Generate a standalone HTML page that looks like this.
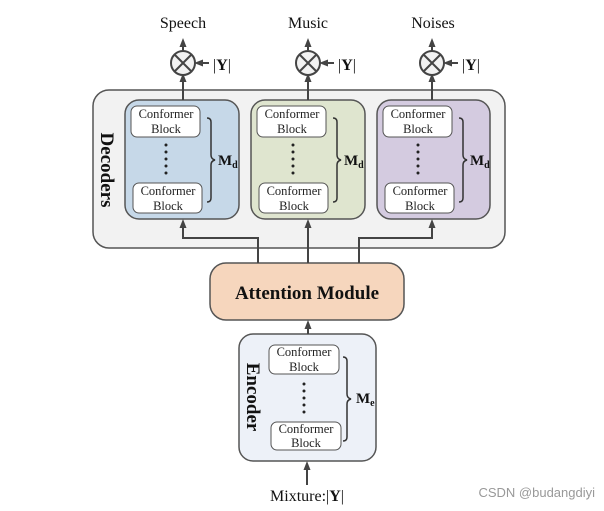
<!DOCTYPE html>
<html><head><meta charset="utf-8"><style>body{margin:0;background:#fff}svg{display:block}</style></head><body>
<svg width="604" height="511" viewBox="0 0 604 511" xmlns="http://www.w3.org/2000/svg" font-family="Liberation Serif, serif">
<defs><marker id="a" markerWidth="9" markerHeight="8" refX="5" refY="4" orient="auto" markerUnits="userSpaceOnUse"><path d="M0,0.5 L9,4 L0,7.5 Z" fill="#444"/></marker></defs>
<rect x="93" y="90" width="412" height="158" rx="16" fill="#f2f2f2" stroke="#555" stroke-width="1.5"/>
<g stroke="#555" stroke-width="1.5">
<rect x="125" y="100" width="114" height="119" rx="14" fill="#c6d8e8"/>
<rect x="251" y="100" width="114" height="119" rx="14" fill="#dfe5cf"/>
<rect x="377" y="100" width="113" height="119" rx="14" fill="#d4cbe0"/>
<rect x="210" y="263" width="194" height="57" rx="16" fill="#f6d6bd"/>
<rect x="239" y="334" width="137" height="127" rx="14" fill="#edf1f8"/>
</g>
<g fill="#fff" stroke="#555" stroke-width="1">
<rect x="131" y="106" width="69" height="31" rx="6"/><rect x="133" y="183" width="69" height="30" rx="6"/>
<rect x="257" y="106" width="69" height="31" rx="6"/><rect x="259" y="183" width="69" height="30" rx="6"/>
<rect x="383" y="106" width="69" height="31" rx="6"/><rect x="385" y="183" width="69" height="30" rx="6"/>
<rect x="269" y="345" width="70" height="29" rx="6"/><rect x="271" y="422" width="70" height="28" rx="6"/>
</g>
<g font-size="12.5" text-anchor="middle" fill="#222">
<text x="166" y="118">Conformer</text><text x="166" y="133">Block</text>
<text x="168" y="195">Conformer</text><text x="168" y="210">Block</text>
<text x="292" y="118">Conformer</text><text x="292" y="133">Block</text>
<text x="294" y="195">Conformer</text><text x="294" y="210">Block</text>
<text x="418" y="118">Conformer</text><text x="418" y="133">Block</text>
<text x="420" y="195">Conformer</text><text x="420" y="210">Block</text>
<text x="304" y="356">Conformer</text><text x="304" y="371">Block</text>
<text x="306" y="433">Conformer</text><text x="306" y="447">Block</text>
</g>
<g stroke="#222" stroke-width="3" stroke-dasharray="0,7" stroke-linecap="round">
<line x1="166" y1="145" x2="166" y2="175"/><line x1="293" y1="145" x2="293" y2="175"/><line x1="418" y1="145" x2="418" y2="175"/>
<line x1="304" y1="384" x2="304" y2="414"/>
</g>
<g stroke="#333" stroke-width="1.5" fill="none">
<path d="M207,118 q4,0 4,4 v33 q0,4 4,5 q-4,1 -4,5 v33 q0,4 -4,4"/>
<path d="M333,118 q4,0 4,4 v33 q0,4 4,5 q-4,1 -4,5 v33 q0,4 -4,4"/>
<path d="M459,118 q4,0 4,4 v33 q0,4 4,5 q-4,1 -4,5 v33 q0,4 -4,4"/>
<path d="M343,357 q4,0 4,4 v33 q0,4 4,5 q-4,1 -4,5 v33 q0,4 -4,4"/>
</g>
<g font-weight="bold" font-size="15" fill="#111">
<text x="218" y="165">M<tspan font-size="10" dy="3">d</tspan></text>
<text x="344" y="165">M<tspan font-size="10" dy="3">d</tspan></text>
<text x="470" y="165">M<tspan font-size="10" dy="3">d</tspan></text>
<text x="356" y="403">M<tspan font-size="10" dy="3">e</tspan></text>
</g>
<text transform="translate(101,170) rotate(90)" text-anchor="middle" font-size="19" font-weight="bold" fill="#111">Decoders</text>
<text transform="translate(247,397) rotate(90)" text-anchor="middle" font-size="19" font-weight="bold" fill="#111">Encoder</text>
<text x="307" y="299" text-anchor="middle" font-size="19" font-weight="bold" fill="#111">Attention Module</text>
<g stroke="#444" stroke-width="2" fill="none">
<path d="M183,100 V77" marker-end="url(#a)"/><path d="M308,100 V77" marker-end="url(#a)"/><path d="M432,100 V77" marker-end="url(#a)"/>
<path d="M183,51 V42" marker-end="url(#a)"/><path d="M308,51 V42" marker-end="url(#a)"/><path d="M432,51 V42" marker-end="url(#a)"/>
<path d="M209,63 H198" marker-end="url(#a)"/><path d="M334,63 H323" marker-end="url(#a)"/><path d="M458,63 H447" marker-end="url(#a)"/>
<path d="M258,263 V238 H183 V223" marker-end="url(#a)"/>
<path d="M308,263 V223" marker-end="url(#a)"/>
<path d="M359,263 V238 H432 V223" marker-end="url(#a)"/>
<path d="M308,334 V324" marker-end="url(#a)"/>
<path d="M307,485 V465" marker-end="url(#a)"/>
</g>
<g stroke="#444" stroke-width="2" fill="#f2f2f2">
<circle cx="183" cy="63" r="12"/><circle cx="308" cy="63" r="12"/><circle cx="432" cy="63" r="12"/>
</g>
<g stroke="#444" stroke-width="2">
<path d="M175,55 L191,71 M191,55 L175,71"/><path d="M300,55 L316,71 M316,55 L300,71"/><path d="M424,55 L440,71 M440,55 L424,71"/>
</g>
<g font-size="16" fill="#111">
<text x="183" y="28" text-anchor="middle">Speech</text>
<text x="308" y="28" text-anchor="middle">Music</text>
<text x="433" y="28" text-anchor="middle">Noises</text>
<text x="213" y="70">|<tspan font-weight="bold">Y</tspan>|</text>
<text x="338" y="70">|<tspan font-weight="bold">Y</tspan>|</text>
<text x="462" y="70">|<tspan font-weight="bold">Y</tspan>|</text>
<text x="307" y="501" text-anchor="middle">Mixture:|<tspan font-weight="bold">Y</tspan>|</text>
</g>
<text x="595" y="497" text-anchor="end" font-family="Liberation Sans, sans-serif" font-size="13" fill="#999">CSDN @budangdiyi</text>
</svg>
</body></html>
